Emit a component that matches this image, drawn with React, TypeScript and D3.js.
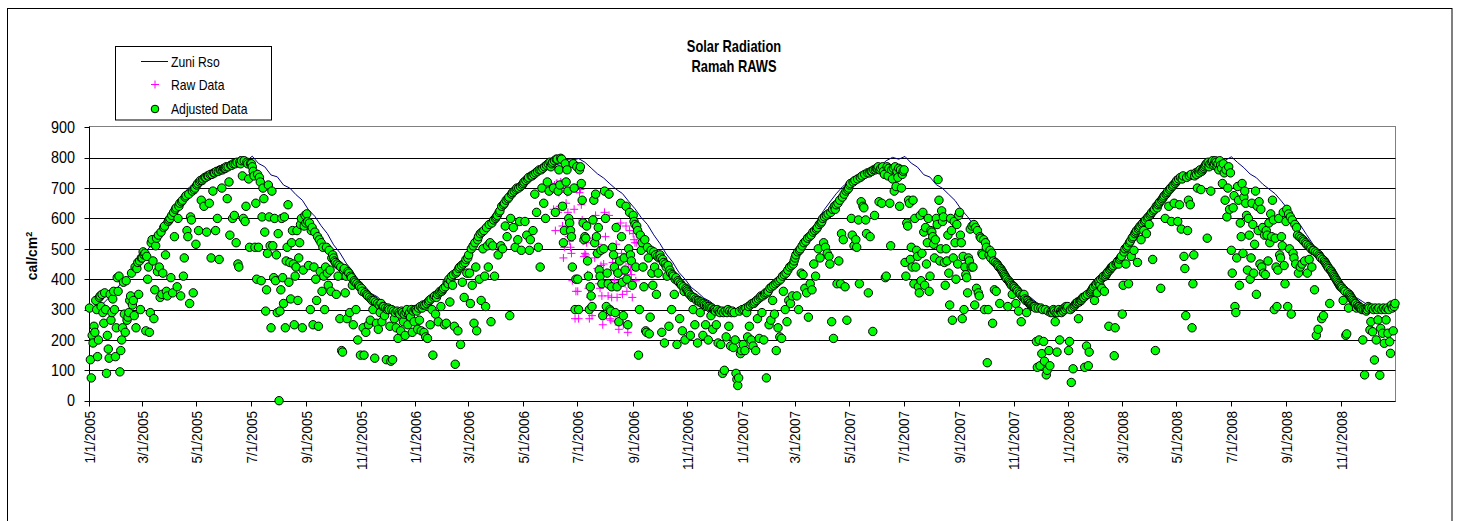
import React from "react";
import * as d3 from "d3";

// ---------------- DATA ----------------
const YEARS = [2005, 2006, 2007, 2008];

// Zuni Rso, read weekly (every 7 days from Jan 1) for each year
const rso2005 = [296, 304, 316, 337, 358, 386, 404, 432, 455, 487, 518, 556, 594, 627, 653, 682, 704, 722, 731, 747, 753, 765, 770, 785, 803, 788, 805, 781, 770, 743, 737, 710, 700, 678, 660, 628, 607, 576, 550, 513, 487, 453, 427, 396, 377, 353, 342, 323, 313, 300, 297, 292, 296];
const rso2006 = [295, 302, 317, 334, 362, 384, 407, 428, 457, 484, 522, 553, 597, 623, 657, 678, 707, 718, 735, 743, 757, 761, 774, 780, 794, 792, 797, 785, 766, 747, 733, 714, 696, 682, 656, 632, 603, 580, 546, 517, 483, 457, 423, 400, 373, 357, 338, 327, 310, 303, 295, 294, 294];
const rso2007 = [297, 303, 315, 336, 359, 386, 405, 431, 454, 486, 519, 556, 593, 626, 654, 681, 704, 721, 732, 746, 754, 764, 771, 790, 801, 795, 804, 782, 769, 744, 736, 711, 699, 679, 659, 629, 606, 577, 549, 514, 486, 454, 426, 397, 376, 354, 341, 324, 311, 301, 297, 292, 295];
const rso2008 = [296, 304, 317, 335, 361, 385, 406, 429, 456, 485, 521, 554, 596, 624, 656, 679, 706, 719, 734, 744, 756, 762, 773, 788, 800, 791, 803, 784, 767, 746, 734, 713, 697, 681, 657, 631, 604, 579, 547, 516, 484, 456, 424, 399, 374, 356, 339, 326, 311, 302, 296, 293, 296];

// Adjusted daily data, one row per month
const adj2005: number[][] = [
  [305, 135, 75, 215, 190, 245, 225, 330, 300, 145, 200, 340, 345, 310, 350, 290, 255, 355, 300, 90, 215, 170, 140, 350, 265, 290, 335, 360, 300, 145, 240],
  [405, 360, 410, 95, 165, 200, 240, 390, 285, 225, 395, 265, 275, 290, 330, 345, 420, 315, 330, 280, 440, 240, 435, 455, 350, 460, 300, 470],
  [470, 490, 480, 485, 230, 475, 400, 440, 225, 290, 520, 530, 460, 270, 365, 510, 535, 425, 545, 440, 340, 555, 350, 420, 570, 575, 480, 360, 345, 590, 595],
  [600, 405, 610, 355, 620, 540, 630, 635, 375, 600, 640, 650, 345, 655, 660, 410, 470, 670, 675, 560, 540, 680, 320, 605, 595, 690, 355, 695, 700, 515],
  [710, 715, 560, 720, 725, 660, 725, 730, 640, 735, 735, 555, 740, 740, 650, 745, 470, 745, 690, 750, 750, 560, 755, 600, 755, 465, 760, 760, 700, 760, 765],
  [765, 765, 770, 665, 770, 720, 545, 775, 775, 600, 780, 610, 780, 520, 785, 450, 440, 785, 780, 790, 740, 600, 790, 590, 640, 785, 780, 730, 505, 780],
  [780, 770, 755, 740, 505, 650, 400, 745, 505, 735, 720, 395, 605, 700, 665, 555, 295, 365, 485, 710, 605, 510, 240, 690, 510, 405, 600, 395, 480, 290, 550],
  [0, 295, 365, 600, 405, 320, 605, 240, 460, 505, 645, 390, 455, 335, 520, 560, 450, 250, 410, 440, 560, 330, 470, 520, 580, 600, 240, 430, 575, 610, 585],
  [615, 590, 445, 585, 300, 560, 570, 250, 440, 555, 400, 330, 540, 245, 530, 425, 520, 360, 505, 410, 300, 440, 505, 420, 380, 495, 430, 360, 470, 480],
  [470, 460, 455, 350, 450, 410, 445, 270, 440, 165, 160, 430, 435, 355, 410, 270, 425, 420, 290, 410, 405, 380, 250, 395, 390, 300, 385, 200, 380, 375, 150],
  [370, 360, 240, 150, 355, 225, 350, 345, 250, 340, 265, 335, 330, 300, 330, 140, 325, 255, 320, 235, 315, 290, 320, 260, 310, 310, 280, 305, 135, 300],
  [305, 300, 245, 130, 300, 135, 295, 270, 290, 240, 295, 205, 290, 285, 230, 295, 290, 260, 285, 215, 290, 300, 250, 285, 290, 275, 300, 225, 295, 260, 300],
];
const adj2006: number[][] = [
  [300, 295, 235, 305, 265, 310, 230, 305, 315, 225, 315, 210, 320, 205, 325, 330, 250, 335, 300, 150, 340, 345, 285, 340, 350, 260, 355, 360, 310, 360, 365],
  [370, 250, 375, 255, 390, 385, 400, 325, 395, 410, 380, 415, 245, 120, 420, 425, 230, 435, 440, 185, 445, 390, 450, 340, 455, 465, 420, 470],
  [480, 420, 320, 500, 380, 510, 255, 520, 440, 230, 530, 540, 400, 550, 330, 555, 500, 560, 410, 310, 570, 510, 440, 580, 520, 260, 585, 510, 595, 410, 600],
  [605, 610, 480, 620, 625, 510, 640, 500, 645, 650, 575, 660, 540, 665, 670, 280, 600, 680, 685, 570, 690, 505, 695, 700, 530, 700, 590, 705, 495, 710],
  [715, 720, 590, 725, 545, 730, 735, 495, 530, 740, 740, 560, 745, 680, 750, 620, 755, 505, 760, 440, 760, 700, 765, 650, 770, 600, 775, 720, 780, 690, 785],
  [770, 780, 785, 700, 790, 620, 795, 795, 690, 760, 710, 798, 795, 640, 520, 560, 780, 720, 760, 690, 600, 585, 560, 540, 440, 780, 700, 300, 400, 770],
  [400, 300, 760, 770, 715, 660, 585, 530, 540, 535, 575, 460, 410, 300, 375, 345, 310, 595, 660, 520, 680, 540, 485, 570, 430, 410, 495, 385, 280, 500, 690],
  [600, 310, 420, 385, 680, 300, 295, 375, 505, 480, 440, 290, 570, 375, 420, 260, 460, 650, 540, 390, 280, 470, 430, 640, 400, 250, 500, 620, 480, 460, 380],
  [610, 590, 580, 440, 575, 560, 150, 300, 545, 495, 520, 440, 375, 530, 230, 225, 505, 470, 220, 275, 495, 420, 380, 490, 440, 480, 350, 475, 420, 470],
  [480, 470, 225, 465, 455, 190, 450, 440, 410, 445, 245, 430, 420, 300, 415, 410, 350, 400, 405, 185, 395, 390, 270, 385, 380, 230, 375, 360, 200, 370, 365],
  [360, 355, 350, 215, 345, 340, 300, 340, 250, 335, 330, 190, 330, 325, 290, 325, 320, 215, 320, 315, 250, 315, 310, 200, 310, 305, 280, 305, 235, 300],
  [300, 295, 250, 300, 190, 295, 290, 185, 295, 90, 290, 100, 295, 210, 290, 300, 245, 295, 180, 290, 295, 175, 290, 200, 90, 70, 50, 75, 295, 155, 165],
];
const adj2007: number[][] = [
  [300, 185, 300, 165, 305, 290, 210, 310, 245, 315, 200, 320, 180, 320, 325, 165, 330, 270, 335, 205, 340, 345, 290, 345, 200, 350, 355, 75, 355, 360, 250],
  [370, 265, 375, 330, 380, 285, 385, 165, 390, 240, 395, 210, 400, 205, 410, 360, 415, 300, 420, 260, 430, 330, 440, 320, 445, 345, 450, 460],
  [470, 480, 345, 490, 300, 495, 500, 420, 510, 415, 520, 370, 525, 355, 535, 275, 540, 385, 545, 365, 555, 450, 560, 410, 565, 570, 500, 580, 470, 585, 590],
  [600, 520, 605, 505, 610, 485, 615, 475, 450, 620, 260, 630, 205, 640, 630, 645, 385, 650, 460, 660, 385, 550, 670, 530, 680, 375, 690, 265, 695, 700],
  [710, 715, 600, 545, 720, 510, 725, 530, 505, 730, 595, 385, 735, 655, 740, 640, 635, 745, 595, 550, 750, 355, 750, 540, 755, 755, 228, 760, 610, 760, 765],
  [765, 770, 655, 760, 765, 650, 770, 755, 745, 405, 410, 770, 740, 765, 650, 510, 760, 730, 765, 690, 770, 705, 755, 735, 765, 640, 760, 700, 745, 755],
  [760, 455, 410, 585, 575, 660, 650, 465, 505, 440, 660, 385, 600, 440, 495, 475, 375, 355, 610, 395, 485, 620, 555, 380, 570, 450, 520, 600, 360, 410, 560],
  [555, 540, 515, 470, 530, 600, 580, 728, 660, 460, 500, 625, 590, 605, 455, 380, 500, 460, 545, 420, 315, 600, 560, 265, 470, 590, 520, 400, 580, 450, 610],
  [620, 545, 520, 270, 475, 300, 440, 415, 405, 355, 470, 460, 565, 440, 575, 440, 580, 315, 570, 370, 560, 355, 345, 540, 535, 485, 480, 530, 300, 520],
  [505, 125, 300, 480, 495, 470, 485, 255, 460, 365, 455, 360, 450, 445, 440, 320, 435, 430, 425, 420, 415, 410, 405, 400, 310, 395, 390, 385, 380, 350, 378],
  [375, 370, 320, 365, 360, 295, 355, 350, 260, 345, 340, 350, 335, 330, 290, 330, 325, 320, 320, 315, 315, 310, 310, 310, 305, 195, 110, 305, 200, 115],
  [305, 155, 300, 195, 130, 300, 85, 100, 295, 165, 115, 290, 295, 290, 300, 295, 260, 290, 160, 290, 300, 200, 295, 290, 300, 295, 305, 300, 310, 305, 310],
];
const adj2008: number[][] = [
  [165, 195, 300, 60, 305, 105, 310, 315, 320, 320, 325, 270, 325, 330, 330, 335, 340, 340, 110, 345, 180, 350, 115, 160, 355, 360, 365, 370, 375, 330, 380],
  [385, 355, 390, 395, 380, 400, 370, 405, 410, 360, 410, 415, 420, 425, 245, 430, 435, 440, 440, 445, 148, 240, 450, 455, 460, 450, 465, 470, 475],
  [285, 380, 490, 500, 450, 505, 510, 385, 520, 525, 475, 535, 540, 495, 550, 555, 560, 455, 565, 570, 575, 530, 580, 585, 560, 590, 595, 550, 600, 605, 580],
  [610, 615, 620, 465, 625, 630, 165, 640, 635, 645, 650, 655, 370, 660, 665, 670, 675, 600, 680, 685, 690, 640, 695, 700, 590, 705, 710, 650, 715, 720],
  [725, 590, 730, 645, 735, 565, 730, 740, 475, 435, 280, 735, 560, 660, 740, 645, 745, 240, 385, 480, 740, 750, 745, 700, 755, 750, 760, 695, 755, 760, 765],
  [770, 775, 780, 535, 785, 770, 780, 690, 785, 790, 775, 780, 790, 785, 770, 780, 760, 790, 775, 765, 715, 780, 750, 660, 760, 605, 700, 770, 630, 750],
  [495, 420, 635, 675, 310, 290, 470, 705, 660, 380, 585, 540, 715, 485, 670, 690, 650, 610, 430, 600, 545, 400, 470, 650, 580, 420, 515, 690, 350, 640, 560],
  [655, 450, 630, 440, 570, 420, 545, 415, 560, 545, 460, 585, 520, 615, 540, 660, 595, 300, 535, 440, 310, 430, 600, 480, 470, 540, 510, 620, 445, 385, 590],
  [630, 310, 615, 500, 605, 285, 595, 485, 470, 580, 450, 570, 545, 420, 540, 440, 535, 450, 530, 525, 460, 520, 515, 420, 510, 465, 505, 500, 440, 495],
  [495, 365, 490, 215, 485, 235, 480, 475, 470, 270, 465, 280, 460, 455, 450, 445, 440, 435, 320, 430, 425, 420, 415, 410, 405, 400, 395, 390, 385, 380, 375],
  [375, 370, 330, 365, 360, 215, 220, 355, 305, 350, 345, 340, 335, 330, 325, 320, 320, 305, 315, 310, 310, 305, 305, 300, 200, 300, 85, 300, 295, 300],
  [310, 305, 233, 260, 305, 227, 300, 134, 305, 200, 300, 266, 305, 84, 238, 300, 222, 305, 189, 300, 266, 305, 222, 300, 194, 156, 315, 305, 230, 310, 320],
];

// Raw data that differs from adjusted: June 1 - Sept 5, 2006 (one row per month)
const RAW_START_MONTH_2006 = 5;
const raw2006: number[][] = [
  [695, 700, 705, 630, 710, 560, 715, 715, 620, 685, 640, 720, 715, 575, 470, 505, 700, 650, 685, 620, 540, 525, 505, 485, 395, 700, 630, 270, 360, 695],
  [360, 270, 685, 695, 645, 595, 525, 475, 485, 480, 520, 415, 370, 270, 340, 310, 280, 535, 595, 470, 610, 485, 435, 515, 385, 370, 445, 345, 250, 450, 620],
  [540, 280, 380, 345, 610, 270, 265, 340, 455, 430, 395, 260, 515, 340, 380, 235, 415, 585, 485, 350, 250, 425, 385, 575, 360, 225, 450, 560, 430, 415, 340],
  [550, 530, 520, 395, 520],
];

const xTickLabels = [
  "1/1/2005", "3/1/2005", "5/1/2005", "7/1/2005", "9/1/2005", "11/1/2005",
  "1/1/2006", "3/1/2006", "5/1/2006", "7/1/2006", "9/1/2006", "11/1/2006",
  "1/1/2007", "3/1/2007", "5/1/2007", "7/1/2007", "9/1/2007", "11/1/2007",
  "1/1/2008", "3/1/2008", "5/1/2008", "7/1/2008", "9/1/2008", "11/1/2008",
];
const yTickValues = [0, 100, 200, 300, 400, 500, 600, 700, 800, 900];

const titleLines = ["Solar Radiation", "Ramah RAWS"];
const seriesNames = ["Zuni Rso", "Raw Data", "Adjusted Data"];

// ---------------- CHART ----------------
type Pt = { d: Date; v: number };
const FONT = "'Liberation Sans', Arial, sans-serif";

export default function App() {
  const W = 1458;
  const H = 521;
  const left = 89.5, right = 1395.5, top = 127.3, bottom = 400.7;

  const x = d3
    .scaleUtc()
    .domain([new Date(Date.UTC(2005, 0, 1)), new Date(Date.UTC(2008, 11, 31))])
    .range([left, right - 0.5]);
  const y = d3.scaleLinear().domain([0, 900]).range([bottom, top]);

  const adjusted = [adj2005, adj2006, adj2007, adj2008];
  const rsoYears = [rso2005, rso2006, rso2007, rso2008];

  const adjPts: Pt[] = adjusted.flatMap((yr, yi) =>
    yr.flatMap((mon, m) => mon.map((v, i) => ({ d: new Date(Date.UTC(YEARS[yi], m, i + 1)), v })))
  );
  const rawPts: Pt[] = raw2006.flatMap((mon, mi) =>
    mon.map((v, i) => ({ d: new Date(Date.UTC(2006, RAW_START_MONTH_2006 + mi, i + 1)), v }))
  );
  const rsoPts: Pt[] = rsoYears.flatMap((arr, yi) =>
    arr.map((v, k) => ({ d: new Date(Date.UTC(YEARS[yi], 0, 1 + 7 * k)), v }))
  );

  const line = d3
    .line<Pt>()
    .x((p) => x(p.d))
    .y((p) => y(p.v));

  const parse = d3.utcParse("%m/%d/%Y");
  const crisp = (v: number) => Math.round(v) + 0.5;

  return (
    <svg
      width={W}
      height={H}
      style={{ position: "absolute", left: 0, top: 0, background: "#fff" }}
      fontFamily={FONT}
    >
      {/* chart border */}
      <rect x={7.5} y={8.5} width={1444.5} height={520} fill="#fff" stroke="#000" strokeWidth={1} />

      {/* title */}
      <text transform="translate(734,52) scale(0.78,1)" textAnchor="middle" fontSize={16.5} fontWeight="bold" fill="#000">
        {titleLines[0]}
      </text>
      <text transform="translate(734,72) scale(0.78,1)" textAnchor="middle" fontSize={16.5} fontWeight="bold" fill="#000">
        {titleLines[1]}
      </text>

      {/* plot area */}
      <rect x={left} y={crisp(top) - 1} width={right - left} height={crisp(bottom) - crisp(top) + 1} fill="#fff" stroke="#808080" strokeWidth={1} />

      {/* gridlines */}
      {yTickValues
        .filter((v) => v > 0 && v < 900)
        .map((v) => (
          <line key={"g" + v} x1={left} x2={right} y1={crisp(y(v))} y2={crisp(y(v))} stroke="#000" strokeWidth={1} />
        ))}

      {/* axes */}
      <line x1={left} x2={left} y1={crisp(top) - 1} y2={crisp(bottom)} stroke="#000" />
      <line x1={left} x2={right} y1={crisp(bottom)} y2={crisp(bottom)} stroke="#000" />

      {/* y ticks + labels */}
      {yTickValues.map((v) => (
        <g key={"y" + v}>
          <line x1={left - 5} x2={left} y1={crisp(y(v))} y2={crisp(y(v))} stroke="#000" />
          <text transform={`translate(75,${y(v)}) scale(0.9,1)`} dy="0.36em" textAnchor="end" fontSize={16} fill="#000">
            {v}
          </text>
        </g>
      ))}

      {/* x ticks + labels */}
      {xTickLabels.map((lab) => {
        const d = parse(lab) as Date;
        const xx = crisp(x(d) - 0.5);
        return (
          <g key={lab}>
            <line x1={xx} x2={xx} y1={crisp(bottom)} y2={crisp(bottom) + 5} stroke="#000" />
            <text
              transform={`translate(${x(d)},411) rotate(-90) scale(0.9,1)`}
              textAnchor="end"
              dy="0.36em"
              fontSize={15}
              fill="#000"
            >
              {lab}
            </text>
          </g>
        );
      })}

      {/* y axis title */}
      <text transform="translate(37,256) rotate(-90)" textAnchor="middle" fontSize={14} fontWeight="bold" fill="#000">
        cal/cm
        <tspan dy="-5" fontSize={9}>2</tspan>
      </text>

      {/* Zuni Rso line */}
      <path d={line(rsoPts) || ""} fill="none" stroke="#000080" strokeWidth={1} />

      {/* Raw data crosses */}
      {rawPts.map((p, i) => (
        <path
          key={"r" + i}
          transform={`translate(${x(p.d)},${y(p.v)})`}
          d="M-4,0H4M0,-4V4"
          stroke="#FF00FF"
          strokeWidth={1}
          fill="none"
        />
      ))}

      {/* Adjusted data circles */}
      {adjPts.map((p, i) => (
        <circle key={"a" + i} cx={x(p.d)} cy={y(p.v)} r={4.2} fill="#00FF00" stroke="#000" strokeWidth={1} />
      ))}

      {/* legend */}
      <rect x={115.5} y={46.5} width={156} height={73.5} fill="#fff" stroke="#000" strokeWidth={1} />
      <line x1={141} x2={168} y1={61.5} y2={61.5} stroke="#000080" strokeWidth={1} />
      <text transform="translate(171,61.5) scale(0.84,1)" dy="0.36em" fontSize={14.5} fill="#000">{seriesNames[0]}</text>
      <path transform="translate(155,84.5)" d="M-4,0H4M0,-4V4" stroke="#FF00FF" strokeWidth={1} fill="none" />
      <text transform="translate(171,84.5) scale(0.84,1)" dy="0.36em" fontSize={14.5} fill="#000">{seriesNames[1]}</text>
      <circle cx={155} cy={109} r={3.8} fill="#00FF00" stroke="#000" strokeWidth={1} />
      <text transform="translate(171,109) scale(0.84,1)" dy="0.36em" fontSize={14.5} fill="#000">{seriesNames[2]}</text>
    </svg>
  );
}
